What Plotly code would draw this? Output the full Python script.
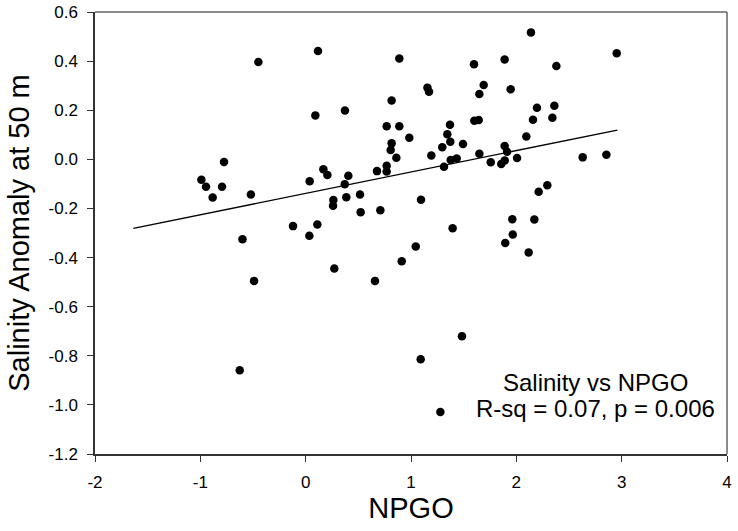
import plotly.graph_objects as go

npgo = [-0.99, -0.946, -0.883, -0.794, -0.775, -0.52, -0.60, -0.626, -0.49, -0.449,
        0.117, 0.092, 0.373, 0.889, 0.816, 0.769, 0.889, 0.984, 0.816, 0.807,
        0.861, 0.769, 0.769, 0.677, 1.156, 1.171, 1.598, 1.690, 1.649, 1.601,
        1.643, 1.370, 1.345, 1.373, 1.494, 1.297, 1.193, 1.649, 1.757, 1.313,
        1.377, 1.434, 0.168, 0.206, 0.038, 0.405, 0.371, 0.263, 0.260, 0.386,
        0.516, 0.522, 0.709, 1.095, -0.120, 0.111, 0.035, 1.395, 1.045, 0.912,
        0.272, 0.658, 1.484, 1.092, 1.279, 2.139, 1.889, 2.953, 2.380, 1.946,
        2.196, 2.361, 2.158, 2.342, 2.095, 1.889, 1.912, 2.007, 1.89, 1.857,
        2.630, 2.855, 2.294, 2.212, 1.962, 2.171, 1.966, 1.895, 2.117]
salinity = [-0.083, -0.112, -0.155, -0.112, -0.011, -0.143, -0.325, -0.859, -0.495, 0.396,
            0.441, 0.179, 0.199, 0.411, 0.240, 0.135, 0.135, 0.088, 0.065, 0.038,
            0.006, -0.026, -0.050, -0.048, 0.292, 0.275, 0.387, 0.303, 0.266, 0.157,
            0.160, 0.141, 0.102, 0.072, 0.062, 0.049, 0.016, 0.023, -0.012, -0.030,
            -0.003, 0.003, -0.040, -0.064, -0.089, -0.067, -0.101, -0.166, -0.189, -0.154,
            -0.143, -0.215, -0.207, -0.165, -0.272, -0.265, -0.311, -0.281, -0.355, -0.415,
            -0.445, -0.495, -0.720, -0.814, -1.029, 0.517, 0.407, 0.432, 0.380, 0.285,
            0.210, 0.218, 0.161, 0.169, 0.093, 0.054, 0.031, 0.005, -0.005, -0.019,
            0.008, 0.019, -0.106, -0.132, -0.244, -0.245, -0.306, -0.341, -0.379]

fit_slope = 0.0871
fit_intercept = -0.1387
fit_x = [-1.636, 2.959]
fit_y = [fit_intercept + fit_slope * v for v in fit_x]

x_ticks = [-2, -1, 0, 1, 2, 3, 4]
x_tick_labels = ["-2", "-1", "0", "1", "2", "3", "4"]
y_ticks = [0.6, 0.4, 0.2, 0.0, -0.2, -0.4, -0.6, -0.8, -1.0, -1.2]
y_tick_labels = ["0.6", "0.4", "0.2", "0.0", "-0.2", "-0.4", "-0.6", "-0.8", "-1.0", "-1.2"]

font = "Liberation Sans, Arial, sans-serif"

fig = go.Figure()
fig.add_trace(go.Scatter(x=fit_x, y=fit_y, mode="lines",
                         line=dict(color="black", width=1.4), hoverinfo="skip"))
fig.add_trace(go.Scatter(x=npgo, y=salinity, mode="markers",
                         marker=dict(color="black", size=8.5, line=dict(width=0))))

fig.update_layout(
    width=738, height=531,
    margin=dict(l=95, r=11, t=12, b=77, autoexpand=False),
    paper_bgcolor="white", plot_bgcolor="white",
    showlegend=False,
    font=dict(family=font, color="black"),
    xaxis=dict(range=[-2, 4], tickvals=x_ticks, ticktext=x_tick_labels,
               showgrid=False, zeroline=False, showline=True, linecolor="#333",
               linewidth=1.5, ticks="outside", ticklen=6, tickcolor="#333",
               tickwidth=1.2, tickfont=dict(size=17, family=font), automargin=False,
               ticklabelstandoff=6, ticklabeloverflow="allow",
               title=dict(text="NPGO", font=dict(size=29, family=font), standoff=6)),
    yaxis=dict(range=[-1.2, 0.6], tickvals=y_ticks, ticktext=y_tick_labels,
               showgrid=False, zeroline=False, showline=True, linecolor="#333",
               linewidth=1.5, ticks="outside", ticklen=6, tickcolor="#333",
               tickwidth=1.2, tickfont=dict(size=17, family=font), automargin=False,
               ticklabelstandoff=6, ticklabeloverflow="allow",
               title=dict(text="Salinity Anomaly at 50 m", font=dict(size=29, family=font), standoff=10)),
    shapes=[
        dict(type="line", xref="paper", yref="paper", x0=0, x1=1, y0=1, y1=1,
             line=dict(color="#666", width=1.5)),
        dict(type="line", xref="paper", yref="paper", x0=1, x1=1, y0=0, y1=1,
             line=dict(color="#666", width=1.5)),
    ],
    annotations=[
        dict(x=2.747, y=-0.908, xref="x", yref="y", text="Salinity vs NPGO",
             showarrow=False, xanchor="center", yanchor="middle",
             font=dict(size=24, family=font, color="black")),
        dict(x=2.747, y=-1.014, xref="x", yref="y", text="R-sq = 0.07, p = 0.006",
             showarrow=False, xanchor="center", yanchor="middle",
             font=dict(size=24, family=font, color="black")),
    ],
)

# remove the browser's default 8px body margin so the figure fills the window
fig.write_html("out.html", config={"displayModeBar": False},
               post_script="document.body.style.margin='0';")
